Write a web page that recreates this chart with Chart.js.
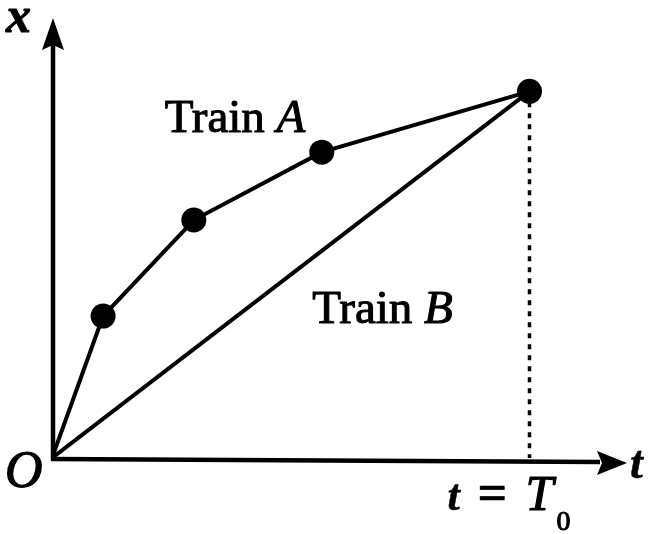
<!DOCTYPE html>
<html>
<head>
<meta charset="utf-8">
<script src="https://cdn.jsdelivr.net/npm/chart.js@4/dist/chart.umd.min.js"></script>
<style>
  html, body { margin: 0; padding: 0; background: #fff; }
  #wrap { width: 649px; height: 534px; position: relative; }
</style>
</head>
<body>
<div id="wrap"><canvas id="chart"></canvas></div>
<script>
// ---------------------------------------------------------
// Data (t in units where T0 = 10, x in units where x(T0) = 10)
// ---------------------------------------------------------
const T0 = 10;
const TRAIN_A_T = [0, 1.07, 2.97, 5.65, 10];
const TRAIN_A_X = [0, 3.87, 6.49, 8.34, 10];
const TRAIN_B_T = [0, 10];
const TRAIN_B_X = [0, 10];
const AXIS_MAX = 12;

const INK = '#000';
const SERIF = '"Liberation Serif", "DejaVu Serif", serif';

const pts = (ts, xs) => ts.map((t, i) => ({ x: t, y: xs[i] }));

// heavy text, like the scanned print
function ink(ctx, txt, px, py, font, weight) {
  ctx.font = font;
  ctx.lineWidth = weight || 1;
  ctx.strokeText(txt, px, py);
  ctx.fillText(txt, px, py);
}

// ---------------------------------------------------------
// Axes with arrowheads + labels
// ---------------------------------------------------------
const figurePlugin = {
  id: 'figure',
  beforeDatasetsDraw(chart) {
    const { ctx, scales: { x, y } } = chart;
    const ox = x.getPixelForValue(0);
    const oy = y.getPixelForValue(0);
    const xEnd = x.getPixelForValue(AXIS_MAX);
    const yEnd = y.getPixelForValue(AXIS_MAX);

    ctx.save();
    ctx.strokeStyle = INK;
    ctx.fillStyle = INK;
    ctx.lineWidth = 4.5;
    ctx.lineCap = 'butt';

    // vertical axis
    ctx.beginPath();
    ctx.moveTo(ox + 1, oy + 2);
    ctx.lineTo(ox + 1, yEnd + 25);
    ctx.stroke();
    ctx.beginPath();
    ctx.moveTo(ox + 1, yEnd);
    ctx.lineTo(ox + 12, yEnd + 32);
    ctx.lineTo(ox + 1, yEnd + 27);
    ctx.lineTo(ox - 10, yEnd + 32);
    ctx.closePath();
    ctx.fill();

    // horizontal axis
    ctx.beginPath();
    ctx.moveTo(ox - 1, oy + 1);
    ctx.lineTo(xEnd - 25, oy + 4);
    ctx.stroke();
    ctx.beginPath();
    ctx.moveTo(xEnd + 2, oy + 5);
    ctx.lineTo(xEnd - 28, oy + 17);
    ctx.lineTo(xEnd - 23, oy + 5);
    ctx.lineTo(xEnd - 28, oy - 7);
    ctx.closePath();
    ctx.fill();
    ctx.restore();
  },
  afterDraw(chart) {
    const { ctx, scales: { x, y } } = chart;
    const ox = x.getPixelForValue(0);
    const oy = y.getPixelForValue(0);
    ctx.save();
    ctx.fillStyle = INK;
    ctx.strokeStyle = INK;
    ctx.lineJoin = 'round';
    ctx.textBaseline = 'alphabetic';
    ctx.textAlign = 'left';

    // axis letters
    ink(ctx, 'x', ox - 46, oy - 426, 'italic bold 50px ' + SERIF, 1);
    ink(ctx, 'O', ox - 47, oy + 29, 'italic 52px ' + SERIF, 1.2);
    ink(ctx, 't', x.getPixelForValue(AXIS_MAX) + 5, oy + 20, 'italic bold 46px ' + SERIF, 0.5);

    // t = T0
    const tx = x.getPixelForValue(T0);
    ink(ctx, 't', tx - 82, oy + 52, 'italic bold 44px ' + SERIF, 0.5);
    ink(ctx, '=', tx - 52, oy + 52, 'bold 52px ' + SERIF, 0.5);
    ink(ctx, 'T', tx - 4, oy + 52, 'italic 50px ' + SERIF, 1.2);
    ink(ctx, '0', tx + 27, oy + 72, '28px ' + SERIF, 1);

    // series labels
    const label = (name, letter, px, py) => {
      ink(ctx, name, px, py, '47px ' + SERIF, 1.1);
      ctx.font = '47px ' + SERIF;
      const w = ctx.measureText(name + ' ').width;
      ink(ctx, letter, px + w, py, 'italic 47px ' + SERIF, 1.1);
    };
    label('Train', 'A', x.getPixelForValue(2.36), y.getPixelForValue(8.9));
    label('Train', 'B', x.getPixelForValue(5.45), y.getPixelForValue(3.68));
    ctx.restore();
  }
};

// ---------------------------------------------------------
// Chart
// ---------------------------------------------------------
new Chart(document.getElementById('chart'), {
  type: 'scatter',
  data: {
    datasets: [
      {
        label: 'Train B',
        data: pts(TRAIN_B_T, TRAIN_B_X),
        showLine: true,
        borderColor: INK,
        borderWidth: 4,
        pointRadius: 0,
      },
      {
        label: 'T0',
        data: [{ x: T0, y: TRAIN_A_X[TRAIN_A_X.length - 1] }, { x: T0, y: 0 }],
        showLine: true,
        borderColor: INK,
        borderWidth: 3.5,
        borderDash: [5, 6],
        pointRadius: 0,
      },
      {
        label: 'Train A',
        data: pts(TRAIN_A_T, TRAIN_A_X),
        showLine: true,
        borderColor: INK,
        borderWidth: 4,
        backgroundColor: INK,
        pointRadius: TRAIN_A_T.map((t) => (t === 0 ? 0 : 12.5)),
        pointBorderWidth: 0,
      },
    ],
  },
  options: {
    responsive: true,
    maintainAspectRatio: false,
    animation: false,
    layout: { padding: { left: 52, top: 18, right: 24, bottom: 76 } },
    plugins: { legend: { display: false }, tooltip: { enabled: false } },
    scales: {
      x: { type: 'linear', min: 0, max: AXIS_MAX, display: false },
      y: { type: 'linear', min: 0, max: AXIS_MAX, display: false },
    },
  },
  plugins: [figurePlugin],
});
</script>
</body>
</html>
